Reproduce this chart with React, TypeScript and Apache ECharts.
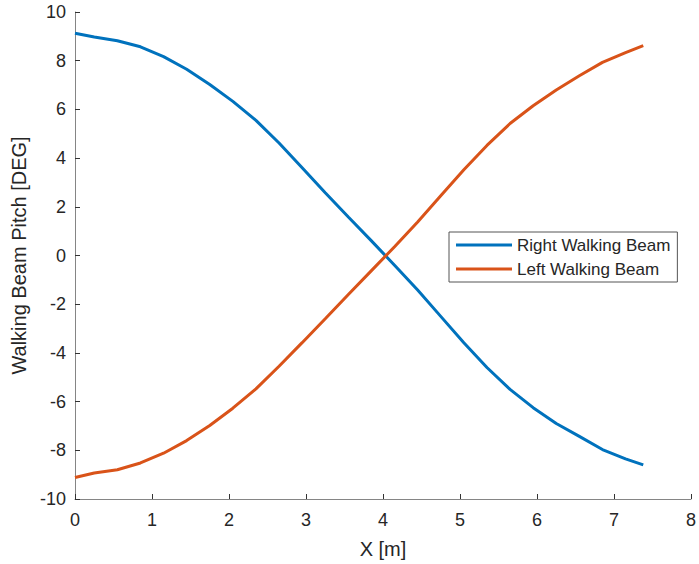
import React, { useEffect, useRef } from "react";
import * as echarts from "echarts";

const xs = [0, 0.25, 0.55, 0.85, 1.15, 1.45, 1.75, 2.05, 2.35, 2.65, 2.95, 3.25, 3.55, 3.85, 4.15, 4.45, 4.75, 5.05, 5.35, 5.65, 5.95, 6.25, 6.55, 6.85, 7.15, 7.38];
const rightBeam = [9.13, 8.97, 8.82, 8.57, 8.17, 7.65, 7.02, 6.33, 5.55, 4.62, 3.6, 2.58, 1.58, 0.6, -0.4, -1.42, -2.5, -3.58, -4.6, -5.5, -6.25, -6.9, -7.43, -7.97, -8.35, -8.6];
const leftBeam = [-9.12, -8.93, -8.8, -8.52, -8.12, -7.6, -6.98, -6.27, -5.48, -4.55, -3.58, -2.6, -1.6, -0.62, 0.36, 1.38, 2.45, 3.52, 4.52, 5.42, 6.15, 6.8, 7.38, 7.93, 8.33, 8.62];
const seriesNames = ["Right Walking Beam", "Left Walking Beam"];
const xLabel = "X [m]";
const yLabel = "Walking Beam Pitch [DEG]";

const FONT = "'Liberation Sans', Arial, Helvetica, sans-serif";
const TXT = "#262626";

export default function App() {
  const ref = useRef<HTMLDivElement>(null);
  useEffect(() => {
    if (!ref.current) return;
    const chart = echarts.init(ref.current, null, { renderer: "svg" });
    const axisCommon = {
      axisLine: { show: true, onZero: false, lineStyle: { color: "#858585", width: 1 } },
      axisTick: { show: true, inside: true, length: 5, lineStyle: { color: "#333", width: 1 } },
      splitLine: { show: false },
      axisLabel: { color: TXT, fontSize: 18, fontFamily: FONT },
      nameTextStyle: { color: TXT, fontSize: 20, fontFamily: FONT },
    };
    chart.setOption({
      animation: false,
      backgroundColor: "#fff",
      textStyle: { fontFamily: FONT },
      grid: { left: 75, right: 7, top: 12, bottom: 65, containLabel: false },
      xAxis: {
        type: "value",
        min: 0,
        max: 8,
        interval: 1,
        name: xLabel,
        nameLocation: "middle",
        nameGap: 40,
        ...axisCommon,
        axisLabel: { ...axisCommon.axisLabel, margin: 12 },
      },
      yAxis: {
        type: "value",
        min: -10,
        max: 10,
        interval: 2,
        name: yLabel,
        nameLocation: "middle",
        nameGap: 40,
        nameRotate: 90,
        ...axisCommon,
        axisLabel: { ...axisCommon.axisLabel, margin: 9 },
      },
      legend: {
        orient: "vertical",
        left: 449,
        top: 232,
        padding: [4, 7, 4, 7],
        itemGap: 6,
        itemWidth: 56,
        itemHeight: 3,
        icon: "rect",
        backgroundColor: "#fff",
        borderColor: "#555",
        borderWidth: 1,
        textStyle: { color: TXT, fontSize: 17, fontFamily: FONT, lineHeight: 18 },
        data: seriesNames,
      },
      series: [
        {
          name: seriesNames[0],
          type: "line",
          showSymbol: false,
          data: xs.map((x, i) => [x, rightBeam[i]]),
          lineStyle: { color: "#0072BD", width: 3 },
          itemStyle: { color: "#0072BD" },
        },
        {
          name: seriesNames[1],
          type: "line",
          showSymbol: false,
          data: xs.map((x, i) => [x, leftBeam[i]]),
          lineStyle: { color: "#D95319", width: 3 },
          itemStyle: { color: "#D95319" },
        },
      ],
    });
    return () => chart.dispose();
  }, []);
  return <div ref={ref} style={{ position: "absolute", left: 0, top: 0, width: 699, height: 564 }} />;
}
